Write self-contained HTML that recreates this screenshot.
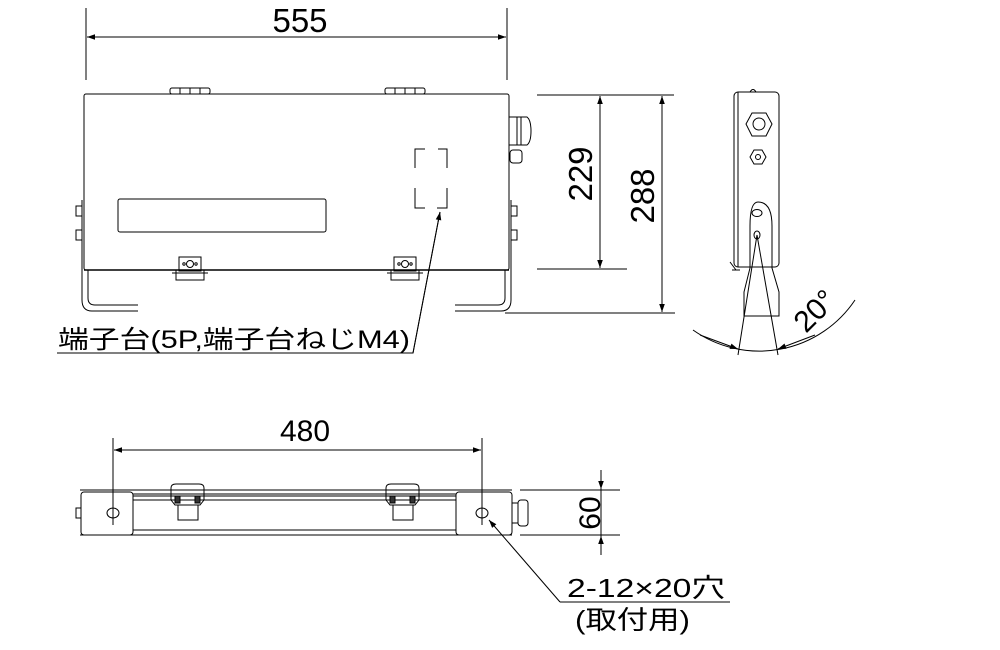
<!DOCTYPE html>
<html><head><meta charset="utf-8"><style>
html,body{margin:0;padding:0;background:#fff;}
svg{display:block;}
text{font-family:"Liberation Sans","Noto Sans CJK JP",sans-serif;fill:#000;}
</style></head><body>
<svg width="1000" height="650" viewBox="0 0 1000 650" xmlns="http://www.w3.org/2000/svg">
<defs>
<marker id="a" viewBox="0 0 10 10" refX="10" refY="5" markerWidth="12" markerHeight="8" orient="auto-start-reverse" markerUnits="userSpaceOnUse"><path d="M0,1.5 L10,5 L0,8.5 z" fill="#000"/></marker>
</defs>
<g stroke="#000" fill="none" stroke-width="1">
<!-- 555 dim -->
<line x1="86" y1="8" x2="86" y2="80"/><line x1="507" y1="8" x2="507" y2="80"/>
<line x1="87" y1="37" x2="506" y2="37" marker-start="url(#a)" marker-end="url(#a)"/>
<!-- front box -->
<rect x="84" y="94" width="425" height="176" rx="2"/>
<line x1="84" y1="270" x2="509" y2="270" stroke-width="1.5"/>
<!-- hinges -->
<rect x="170" y="88" width="40" height="6" rx="2"/><line x1="180" y1="88" x2="180" y2="94"/><line x1="190" y1="88" x2="190" y2="94"/><line x1="200" y1="88" x2="200" y2="94"/>
<rect x="385" y="88" width="40" height="6" rx="2"/><line x1="395" y1="88" x2="395" y2="94"/><line x1="405" y1="88" x2="405" y2="94"/><line x1="415" y1="88" x2="415" y2="94"/>
<!-- display -->
<rect x="118" y="199" width="208" height="33" rx="2"/>
<!-- dashed bracket -->
<path d="M415,168 V149 H425 M438,149 H447 V168 M415,188 V208 H425 M437,208 H447 V188"/>
<!-- feet -->
<path d="M82,200 V300 Q82,311 92,311 H138 M88,270 V298 Q88,305 95,305 H138"/>
<path d="M511,200 V300 Q511,311 501,311 H455 M505,270 V298 Q505,305 498,305 H455"/>
<line x1="505" y1="313" x2="675" y2="313"/>
<!-- side tabs -->
<rect x="76" y="206" width="6" height="10"/><rect x="76" y="230" width="6" height="10"/>
<rect x="511" y="206" width="6" height="10"/><rect x="511" y="230" width="6" height="10"/>
<!-- glands -->
<rect x="509" y="117" width="8" height="28"/><path d="M517,117 H527 Q531,120 531,131 Q531,142 527,145 H517 z"/><line x1="521" y1="117" x2="521" y2="145"/>
<rect x="510" y="150" width="12" height="13" rx="3"/>
<!-- latches -->
<g><rect x="179" y="257" width="22" height="14"/><circle cx="190" cy="264" r="3.5"/><circle cx="184" cy="264" r="1.2"/><circle cx="196" cy="264" r="1.2"/><path d="M172,273 H208 M176,270 V280 H204 V270"/></g>
<g><rect x="394" y="257" width="22" height="14"/><circle cx="405" cy="264" r="3.5"/><circle cx="399" cy="264" r="1.2"/><circle cx="411" cy="264" r="1.2"/><path d="M387,273 H423 M391,270 V280 H419 V270"/></g>
<!-- 229/288 -->
<line x1="537" y1="95" x2="674" y2="95"/>
<line x1="537" y1="269" x2="627" y2="269"/>
<line x1="600" y1="96" x2="600" y2="268" marker-start="url(#a)" marker-end="url(#a)"/>
<line x1="662" y1="96" x2="662" y2="312" marker-start="url(#a)" marker-end="url(#a)"/>
<!-- terminal leader -->
<path d="M57,353 H413 L440,212" />
<line x1="413" y1="353" x2="440" y2="212" marker-end="url(#a)"/>
<!-- side view -->
<rect x="734" y="92" width="45" height="175" rx="4"/>
<line x1="738" y1="92" x2="738" y2="267"/>
<path d="M750,92 q3,-5 6,0"/>
<polygon points="752,113 766,113 772,124 766,136 752,136 746,124"/>
<circle cx="759" cy="124" r="6"/>
<polygon points="754,150 762,150 766,157 762,164 754,164 750,157"/>
<circle cx="758" cy="157" r="2.5"/>
<path d="M744,300 V292 L750,268 V226 Q750,202 758,202 Q772,202 772,226 V268 L779,292 V316 H744 V300"/>
<ellipse cx="757" cy="213" rx="5" ry="3.5"/>
<ellipse cx="757" cy="235" rx="3" ry="4"/>
<path d="M730,262 l6,8 M732,270 h8"/>
<path d="M693,330 A115,115 0 0 0 855,300" />
<line x1="757" y1="235" x2="738" y2="355"/><line x1="757" y1="235" x2="778" y2="355"/>
<line x1="700" y1="335" x2="738" y2="349" marker-end="url(#a)"/>
<line x1="815" y1="335" x2="778" y2="349" marker-end="url(#a)"/>
<!-- 480 dim -->
<line x1="113" y1="438" x2="113" y2="525"/><line x1="482" y1="438" x2="482" y2="525"/>
<line x1="114" y1="450" x2="481" y2="450" marker-start="url(#a)" marker-end="url(#a)"/>
<!-- bottom view -->
<line x1="80" y1="490" x2="512" y2="490"/>
<line x1="80" y1="535" x2="512" y2="535"/>
<path d="M133,494 H456 M133,496 H456 M133,500 H456 M133,530 H456"/>
<rect x="81" y="492" width="52" height="43" rx="3"/>
<rect x="456" y="492" width="56" height="43" rx="3"/>
<ellipse cx="113" cy="513" rx="6" ry="5"/>
<ellipse cx="482" cy="513" rx="6" ry="5"/>
<rect x="76" y="508" width="5" height="10"/>
<rect x="512" y="503" width="6" height="20"/><rect x="518" y="500" width="10" height="26" rx="3"/>
<g><path d="M171,500 V488 Q171,484 176,484 H199 Q204,484 204,488 V500 L200,505 H175 z"/><rect x="175" y="496" width="5" height="7" fill="#333"/><rect x="195" y="496" width="5" height="7" fill="#333"/><path d="M178,505 V520 H198 V505"/></g>
<g><path d="M386,500 V488 Q386,484 391,484 H414 Q419,484 419,488 V500 L415,505 H390 z"/><rect x="390" y="496" width="5" height="7" fill="#333"/><rect x="410" y="496" width="5" height="7" fill="#333"/><path d="M393,505 V520 H413 V505"/></g>
<!-- 60 dim -->
<line x1="520" y1="490" x2="620" y2="490"/><line x1="520" y1="535" x2="620" y2="535"/>
<line x1="601" y1="470" x2="601" y2="489" marker-end="url(#a)"/>
<line x1="601" y1="555" x2="601" y2="536" marker-end="url(#a)"/>
<line x1="601" y1="489" x2="601" y2="536"/>
<!-- hole leader -->
<line x1="560" y1="602" x2="489" y2="520" marker-end="url(#a)"/>
<line x1="560" y1="602" x2="730" y2="602"/>
</g>
<text x="300" y="32" font-size="33" text-anchor="middle">555</text>
<text transform="translate(592,174) rotate(-90)" font-size="33" text-anchor="middle">229</text>
<text transform="translate(654,196) rotate(-90)" font-size="33" text-anchor="middle">288</text>
<text transform="translate(822,318) rotate(-45)" font-size="30" text-anchor="middle">20°</text>
<text x="58" y="348" font-size="25" textLength="352" lengthAdjust="spacingAndGlyphs">端子台(5P,端子台ねじM4)</text>
<text x="305" y="441" font-size="30" text-anchor="middle">480</text>
<text transform="translate(600,513) rotate(-90)" font-size="30" text-anchor="middle">60</text>
<text x="567" y="597" font-size="26" textLength="158" lengthAdjust="spacingAndGlyphs">2-12×20穴</text>
<text x="575" y="629" font-size="26" textLength="115" lengthAdjust="spacingAndGlyphs">(取付用)</text>
</svg>
</body></html>
